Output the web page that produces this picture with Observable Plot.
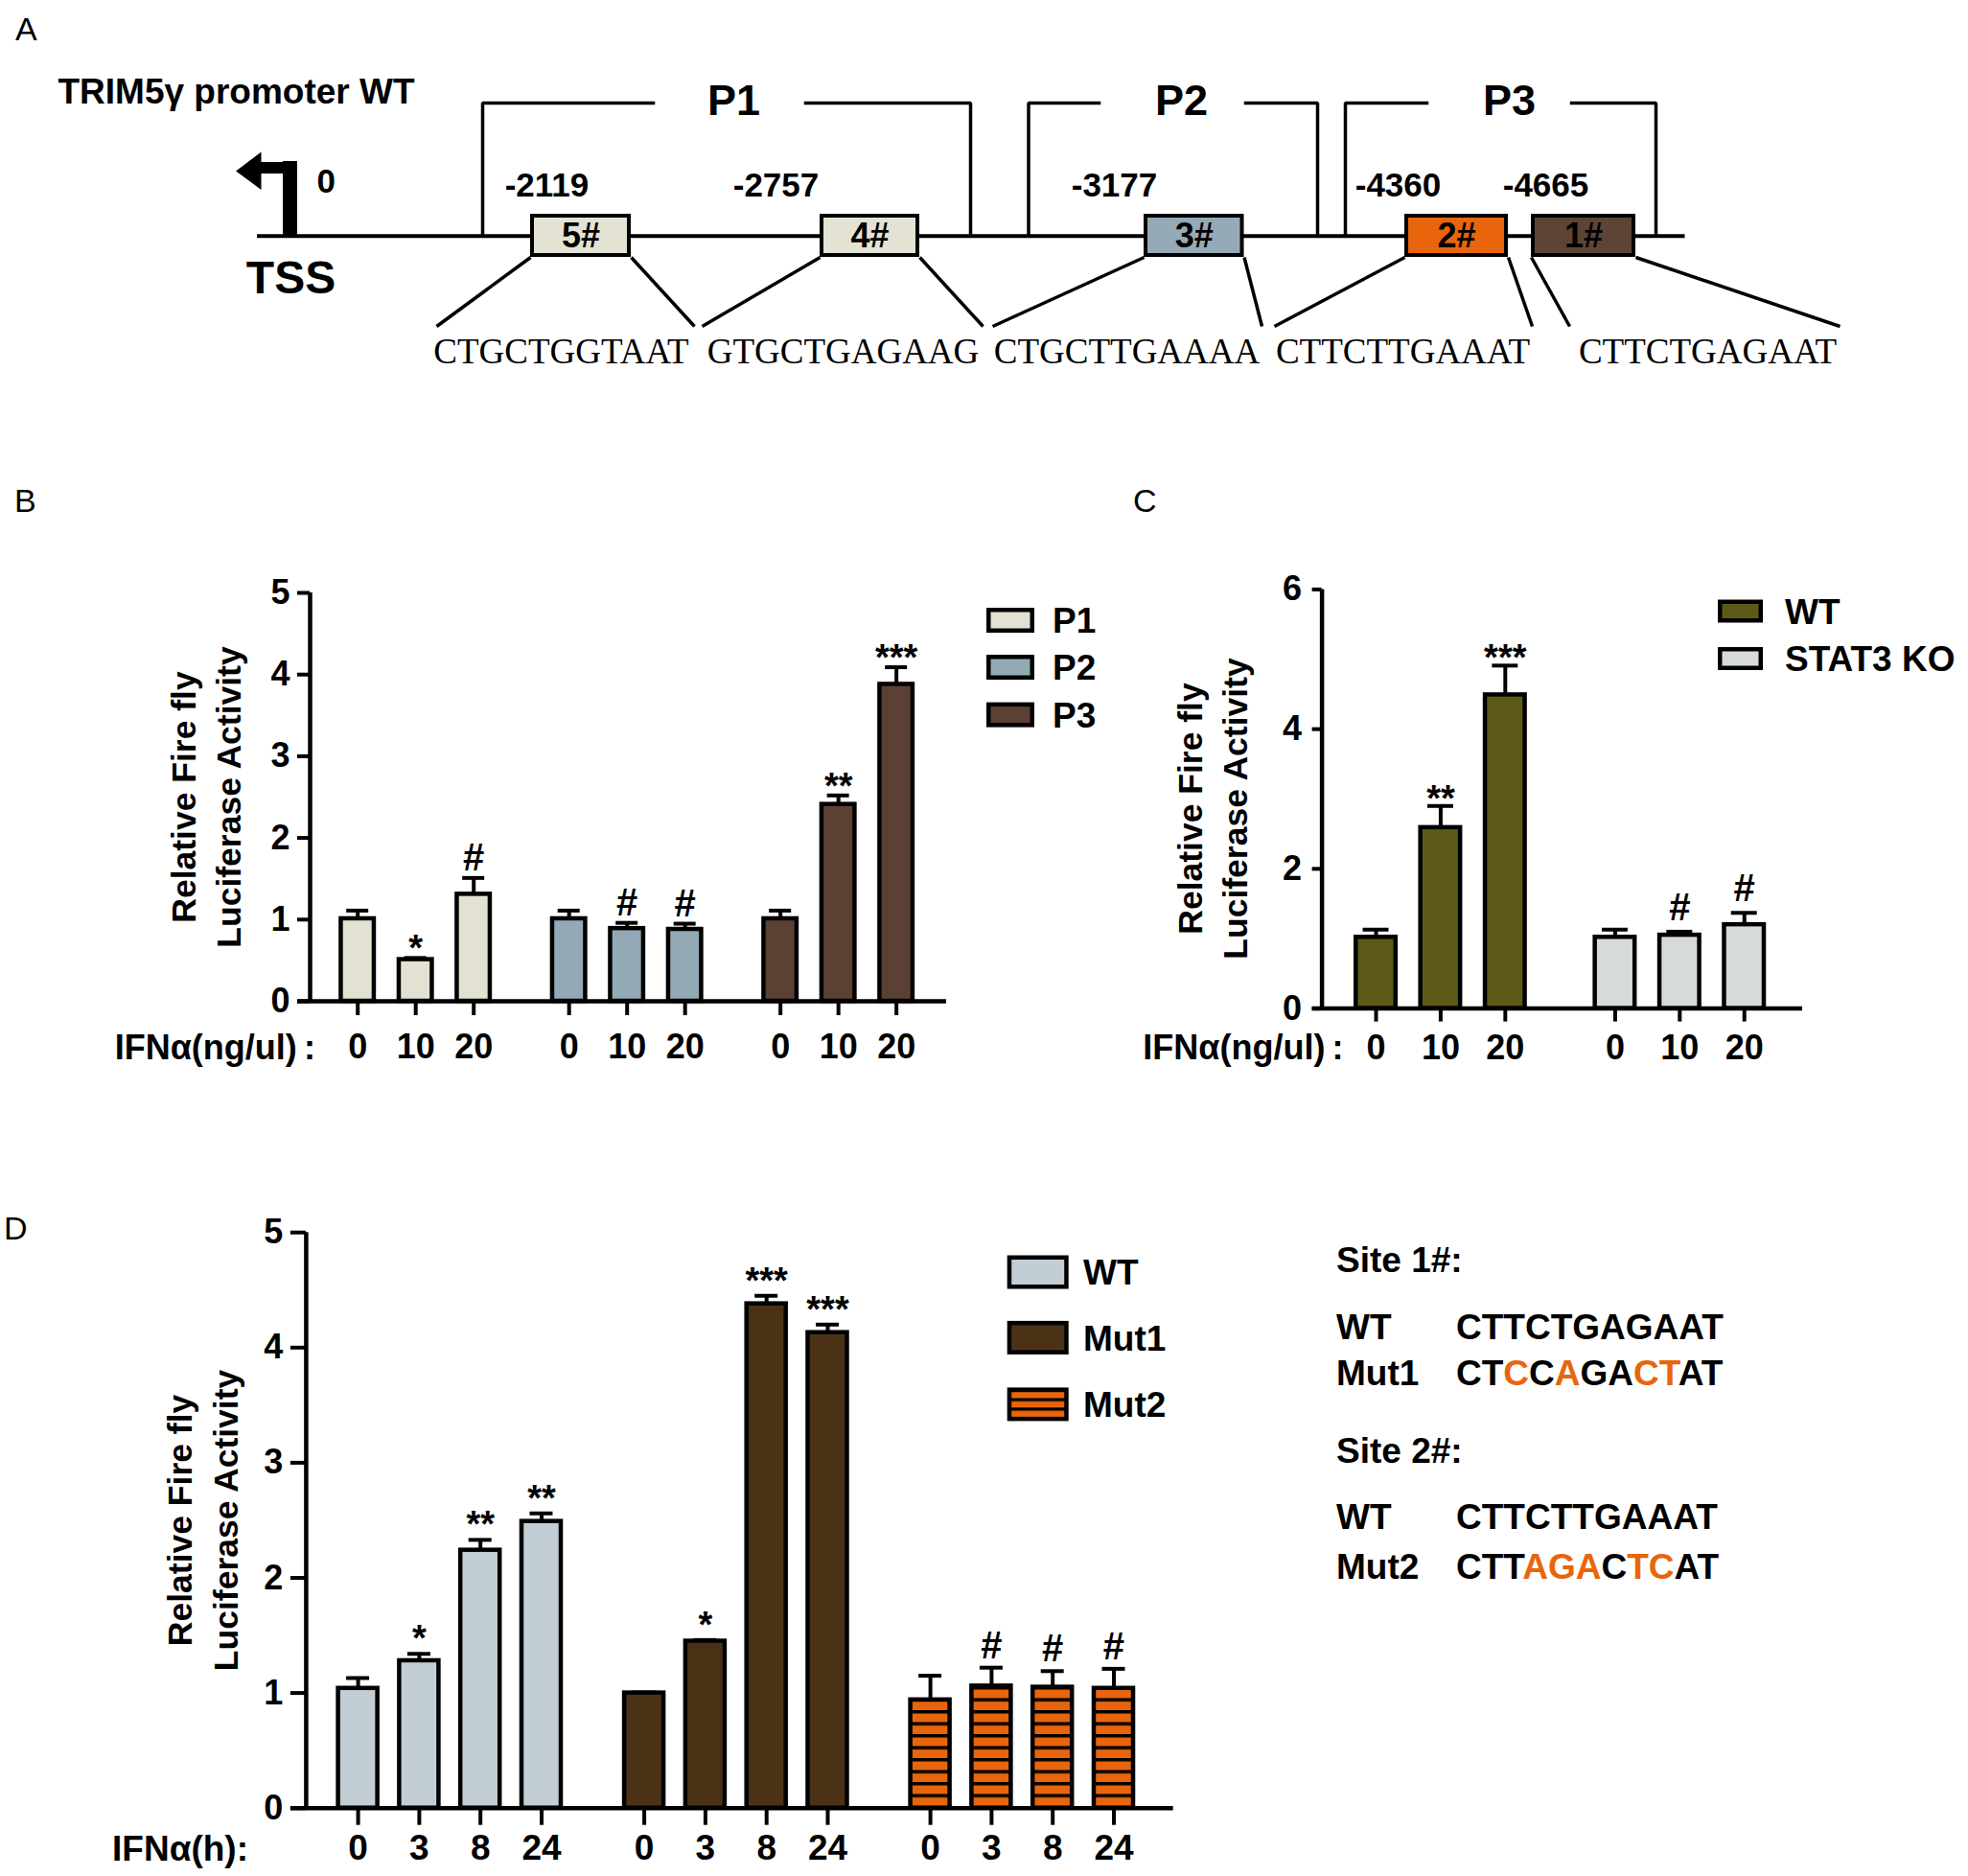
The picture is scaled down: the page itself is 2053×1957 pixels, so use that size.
<!DOCTYPE html>
<html><head><meta charset="utf-8">
<script src="https://cdn.jsdelivr.net/npm/d3@7"></script>
<script src="https://cdn.jsdelivr.net/npm/@observablehq/plot@0.6"></script>
<style>
html,body{margin:0;padding:0;background:#fff;}
#page{position:relative;width:2053px;height:1957px;overflow:hidden;background:#fff;}
.panel{position:absolute;}
.panel svg{max-width:none !important;display:block;overflow:visible;}
</style></head><body><div id="page"></div>
<script>
// ================= DATA =================
const panelLetters = ["A", "B", "C", "D"];

// Panel A: promoter schematic
const promoterTitle = "TRIM5γ promoter WT";
const tssLabel = "TSS";
const tssPosition = "0";
const siteIds = ["5#", "4#", "3#", "2#", "1#"];
const sitePositions = [-2119, -2757, -3177, -4360, -4665];
const siteSequences = ["CTGCTGGTAAT", "GTGCTGAGAAG", "CTGCTTGAAAA", "CTTCTTGAAAT", "CTTCTGAGAAT"];
const fragmentNames = ["P1", "P2", "P3"];

// Shared labels
const yLabelText = "Relative Fire fly\nLuciferase Activity";
const doseLabel = "IFNα(ng/ul)\u2009:";
const timeLabel = "IFNα(h):";

// Panel B
const bGroups = ["P1", "P2", "P3"];
const bDoses = ["0", "10", "20"];
const bMeans = [[1.01, 0.51, 1.31], [1.01, 0.89, 0.88], [1.01, 2.41, 3.88]];
const bErrs = [[0.10, 0.02, 0.20], [0.10, 0.07, 0.07], [0.10, 0.11, 0.21]];
const bSig = [["", "*", "#"], ["", "#", "#"], ["", "**", "***"]];
const bTicks = [0, 1, 2, 3, 4, 5];

// Panel C
const cGroups = ["WT", "STAT3 KO"];
const cDoses = ["0", "10", "20"];
const cMeans = [[1.02, 2.59, 4.49], [1.02, 1.05, 1.20]];
const cErrs = [[0.11, 0.31, 0.42], [0.11, 0.05, 0.17]];
const cSig = [["", "**", "***"], ["", "#", "#"]];
const cTicks = [0, 2, 4, 6];

// Panel D
const dGroups = ["WT", "Mut1", "Mut2"];
const dTimes = ["0", "3", "8", "24"];
const dMeans = [[1.04, 1.28, 2.24, 2.49], [1.0, 1.45, 4.38, 4.13], [0.94, 1.06, 1.05, 1.04]];
const dErrs = [[0.09, 0.06, 0.09, 0.07], [0.005, 0.01, 0.07, 0.07], [0.21, 0.16, 0.14, 0.17]];
const dSig = [["", "*", "**", "**"], ["", "*", "***", "***"], ["", "#", "#", "#"]];
const dTicks = [0, 1, 2, 3, 4, 5];

// Panel D: mutation sequences
const siteTitles = ["Site 1#:", "Site 2#:"];
const siteRowNames = [["WT", "Mut1"], ["WT", "Mut2"]];
const siteRowSeqs = [["CTTCTGAGAAT", "CTCCAGACTAT"], ["CTTCTTGAAAT", "CTTAGACTCAT"]];
const siteRowMutated = [[[], [2, 4, 7, 8]], [[], [3, 4, 5, 7, 8]]];

// ================= STYLE / LAYOUT =================
const FONT = "'Liberation Sans', Arial, sans-serif";
const SERIF = "'Liberation Serif', 'Times New Roman', serif";
const ORANGE = "#e8650c";
const colorsB = ["#e3e1d1", "#93a9b5", "#5b4134"];
const colorsC = ["#5d5a17", "#d7dbd7"];
const colorsD = ["#c3cdd4", "#4b3217", "url(#stripesD)"];
const siteBoxFill = ["#e4e2d3", "#e4e2d3", "#95aab6", ORANGE, "#5d4435"];

const page = document.getElementById("page");
function mount(node, left, top, w, h) {
  const div = document.createElement("div");
  div.className = "panel";
  Object.assign(div.style, {left: left + "px", top: top + "px", width: w + "px", height: h + "px"});
  div.appendChild(node);
  page.appendChild(div);
}

// ================= PANEL A =================
const LA = {
  width: 2053, height: 430,
  lineY: 245.7, lineX1: 268, lineX2: 1757.5, lineW: 4,
  boxX: [[553, 658], [855, 959], [1193, 1297.5], [1465, 1573], [1597, 1706]],
  boxY1: 223, boxY2: 268, boxStroke: 4,
  bpX: [570, 809, 1162, 1458, 1612], bpBaseline: 204, bpFont: 35,
  idFont: 36,
  seqX: [585, 879, 1175, 1463, 1781], seqBaseline: 378, seqFont: 37,
  connTop: 340, connX: [[455, 724], [732, 1025], [1035, 1316], [1329, 1598], [1637, 1919]], connW: 3.5,
  bracketTop: 107, brackets: [[503, 681, 840, 1012], [1072.5, 1146, 1299, 1374], [1403, 1488, 1639, 1727]], bracketW: 3.5,
  fragX: [765, 1232, 1574], fragBaseline: 119, fragFont: 45,
  tssX: 302, tssStemTop: 168, tssStemW: 15, armY: 174.5, armX2: 271, armW: 12,
  head: [[245.6, 178], [272, 158], [272, 197.5]],
  zeroX: 330, zeroBaseline: 200, zeroFont: 35,
  tssLabelX: 303, tssBaseline: 305, tssFont: 48,
  titleX: 60, titleBaseline: 107, titleFont: 37
};
{
  const sites = siteIds.map((id, i) => ({id, bp: sitePositions[i], seq: siteSequences[i], i}));
  const frags = fragmentNames.map((name, i) => ({name, i}));
  const bracketPts = [];
  frags.forEach(f => {
    const [xa, ga, gb, xb] = LA.brackets[f.i];
    [[xa, LA.lineY], [xa, LA.bracketTop], [ga, LA.bracketTop]].forEach(([x, y]) => bracketPts.push({k: f.name + "a", x, y}));
    [[gb, LA.bracketTop], [xb, LA.bracketTop], [xb, LA.lineY]].forEach(([x, y]) => bracketPts.push({k: f.name + "b", x, y}));
  });
  const headPts = LA.head.map(([x, y]) => ({x, y}));
  const bx = d => LA.boxX[d.i];
  const svg = Plot.plot({
    width: LA.width, height: LA.height, margin: 0,
    x: {domain: [0, LA.width], range: [0, LA.width], axis: null},
    y: {domain: [0, LA.height], range: [0, LA.height], axis: null},
    style: {fontFamily: FONT, fontWeight: "bold", color: "black", background: "transparent", overflow: "visible"},
    marks: [
      Plot.ruleY([LA.lineY], {x1: LA.lineX1, x2: LA.lineX2, stroke: "black", strokeWidth: LA.lineW}),
      Plot.line(bracketPts, {x: "x", y: "y", z: "k", stroke: "black", strokeWidth: LA.bracketW, strokeLinejoin: "miter", strokeLinecap: "square"}),
      Plot.text(frags, {x: d => LA.fragX[d.i], y: LA.fragBaseline, text: "name", lineAnchor: "bottom", fontSize: LA.fragFont}),
      Plot.link(sites, {x1: d => bx(d)[0], y1: LA.boxY2, x2: d => LA.connX[d.i][0], y2: LA.connTop, stroke: "black", strokeWidth: LA.connW}),
      Plot.link(sites, {x1: d => bx(d)[1], y1: LA.boxY2, x2: d => LA.connX[d.i][1], y2: LA.connTop, stroke: "black", strokeWidth: LA.connW}),
      Plot.rect(sites, {x1: d => bx(d)[0] + LA.boxStroke / 2, x2: d => bx(d)[1] - LA.boxStroke / 2,
        y1: LA.boxY1 + LA.boxStroke / 2, y2: LA.boxY2 - LA.boxStroke / 2,
        fill: d => siteBoxFill[d.i], stroke: "black", strokeWidth: LA.boxStroke}),
      Plot.text(sites, {x: d => (bx(d)[0] + bx(d)[1]) / 2, y: LA.lineY, text: "id", fontSize: LA.idFont, fill: "black"}),
      Plot.text(sites, {x: d => LA.bpX[d.i], y: LA.bpBaseline, text: d => String(d.bp), lineAnchor: "bottom", fontSize: LA.bpFont}),
      Plot.text(sites, {x: d => LA.seqX[d.i], y: LA.seqBaseline, text: "seq", lineAnchor: "bottom", fontSize: LA.seqFont, fontFamily: SERIF, fontWeight: "normal"}),
      // TSS arrow
      Plot.ruleX([LA.tssX], {y1: LA.lineY + LA.lineW / 2, y2: LA.tssStemTop, stroke: "black", strokeWidth: LA.tssStemW}),
      Plot.ruleY([LA.armY], {x1: LA.tssX + LA.tssStemW / 2, x2: LA.armX2, stroke: "black", strokeWidth: LA.armW}),
      Plot.line(headPts, {x: "x", y: "y", fill: "black", stroke: "none"}),
      Plot.text([tssPosition], {x: LA.zeroX, y: LA.zeroBaseline, text: d => d, textAnchor: "start", lineAnchor: "bottom", fontSize: LA.zeroFont}),
      Plot.text([tssLabel], {x: LA.tssLabelX, y: LA.tssBaseline, text: d => d, lineAnchor: "bottom", fontSize: LA.tssFont}),
      Plot.text([promoterTitle], {x: LA.titleX, y: LA.titleBaseline, text: d => d, textAnchor: "start", lineAnchor: "bottom", fontSize: LA.titleFont})
    ]
  });
  mount(svg, 0, 0, LA.width, LA.height);
}

// ================= BAR PANELS =================
function barPanel(cfg) {
  const {groups, levels, means, errs, sigs, fills, L, yMax, yTicks, xLabel} = cfg;
  const rows = [];
  groups.forEach((g, gi) => levels.forEach((lv, li) => rows.push({
    group: g, gi, level: lv, slot: gi * L.groupStep + li,
    mean: means[gi][li], err: errs[gi][li], sig: sigs[gi][li]
  })));
  const lastSlot = (groups.length - 1) * L.groupStep + levels.length - 1;
  const x0 = -L.padLeft, x1 = lastSlot + L.padRight;
  const unit = (L.width - L.ml - L.mr) / (x1 - x0);
  const top = d => d.mean + d.err;
  const levelOf = new Map(rows.map(d => [d.slot, d.level]));
  return Plot.plot({
    width: L.width, height: L.height,
    marginLeft: L.ml, marginRight: L.mr, marginTop: L.mt, marginBottom: L.mb,
    x: {type: "linear", domain: [x0, x1], label: null},
    y: {type: "linear", domain: [0, yMax], label: null},
    color: {type: "identity"},
    style: {fontFamily: FONT, fontWeight: "bold", color: "black", background: "transparent", overflow: "visible"},
    marks: [
      Plot.ruleX(rows, {x: "slot", y1: "mean", y2: top, stroke: "black", strokeWidth: L.errW}),
      Plot.rect(rows, {x1: d => d.slot - L.barW / 2, x2: d => d.slot + L.barW / 2, y1: 0, y2: "mean",
        fill: d => fills[d.gi], stroke: "black", strokeWidth: L.barStroke}),
      Plot.ruleY(rows, {y: top, x1: d => d.slot - L.capW / 2, x2: d => d.slot + L.capW / 2, stroke: "black", strokeWidth: L.errW}),
      Plot.text(rows.filter(d => d.sig.startsWith("*")), {x: "slot", y: top, text: "sig", lineAnchor: "bottom", dy: L.starDy, fontSize: L.starFont}),
      Plot.text(rows.filter(d => d.sig === "#"), {x: "slot", y: top, text: "sig", lineAnchor: "bottom", dy: L.hashDy, fontSize: L.hashFont}),
      Plot.axisY({ticks: yTicks, tickFormat: d => String(d), tickSize: L.yTick, tickPadding: L.yPad, fontSize: L.tickFont, strokeWidth: L.tickW, label: null}),
      Plot.axisX({ticks: rows.map(d => d.slot), tickFormat: s => levelOf.get(s), tickSize: L.xTick, tickPadding: L.xPad,
        fontSize: L.xFont, strokeWidth: L.tickW, label: null}),
      Plot.ruleX([x0], {stroke: "black", strokeWidth: L.axisW}),
      Plot.ruleY([0], {x1: x0 - L.yTick / unit, x2: x1, stroke: "black", strokeWidth: L.axisW}),
      Plot.text([yLabelText], {text: d => d, frameAnchor: "left", dx: L.ylDx, dy: L.ylDy, rotate: -90,
        textAnchor: "middle", lineAnchor: "bottom", lineHeight: L.ylLH, fontSize: L.ylFont}),
      Plot.text([xLabel], {text: d => d, frameAnchor: "bottom-left", dx: L.xlDx, dy: L.xlDy,
        textAnchor: "end", lineAnchor: "bottom", fontSize: L.xFont})
    ]
  });
}

const LB = {width: 1060, height: 600, ml: 323, mr: 73, mt: 58, mb: 116,
  groupStep: 3.6446, padLeft: 0.8215, padRight: 0.865, barW: 0.570, capW: 0.38,
  barStroke: 4.5, errW: 4, axisW: 4.5, tickW: 4, yTick: 13, yPad: 8, xTick: 15, xPad: 19.4,
  tickFont: 36, xFont: 36, ylFont: 35.5, ylLH: 1.3, ylDx: -73, ylDy: 0,
  starFont: 38, hashFont: 40, starDy: 3, hashDy: -8, xlDx: 5.5, xlDy: 60};
const LC = {width: 903, height: 600, ml: 228.6, mr: 173, mt: 54.4, mb: 108.4,
  groupStep: 3.7003, padLeft: 0.8368, padRight: 0.9017, barW: 0.616, capW: 0.40,
  barStroke: 4.5, errW: 4, axisW: 4.5, tickW: 4, yTick: 10, yPad: 11, xTick: 14, xPad: 13.3,
  tickFont: 36, xFont: 36, ylFont: 35.5, ylLH: 1.32, ylDx: -78.6, ylDy: 10,
  starFont: 38, hashFont: 40, starDy: 5, hashDy: -12, xlDx: 22.5, xlDy: 52.9};
const LD = {width: 1260, height: 707, ml: 318.9, mr: 36.3, mt: 35.2, mb: 71.3,
  groupStep: 4.6787, padLeft: 0.8495, padRight: 0.975, barW: 0.643, capW: 0.376,
  barStroke: 4.5, errW: 4, axisW: 4.5, tickW: 4, yTick: 16, yPad: 8, xTick: 18, xPad: 10,
  tickFont: 36, xFont: 37, ylFont: 35.5, ylLH: 1.35, ylDx: -71, ylDy: 0,
  starFont: 38, hashFont: 40, starDy: -3, hashDy: -10, xlDx: -60.4, xlDy: 54.3};

mount(barPanel({groups: bGroups, levels: bDoses, means: bMeans, errs: bErrs, sigs: bSig, fills: colorsB,
  L: LB, yMax: 5, yTicks: bTicks, xLabel: doseLabel}), 0, 560, LB.width, LB.height);
mount(barPanel({groups: cGroups, levels: cDoses, means: cMeans, errs: cErrs, sigs: cSig, fills: colorsC,
  L: LC, yMax: 6, yTicks: cTicks, xLabel: doseLabel}), 1150, 560, LC.width, LC.height);
mount(barPanel({groups: dGroups, levels: dTimes, means: dMeans, errs: dErrs, sigs: dSig, fills: colorsD,
  L: LD, yMax: 5, yTicks: dTicks, xLabel: timeLabel}), 0, 1250, LD.width, LD.height);

// ================= OVERLAY: letters, legends, sequences =================
const ov = d3.create("svg").attr("width", 2053).attr("height", 1957)
  .style("position", "absolute").style("left", "0px").style("top", "0px").style("pointer-events", "none")
  .attr("font-family", FONT);
const defs = ov.append("defs");
function stripes(id, y0, period, black, color) {
  const p = defs.append("pattern").attr("id", id).attr("patternUnits", "userSpaceOnUse")
    .attr("x", 0).attr("y", y0).attr("width", 20).attr("height", period);
  p.append("rect").attr("width", 20).attr("height", period).attr("fill", color);
  p.append("rect").attr("y", 0).attr("width", 20).attr("height", black).attr("fill", "black");
}
const dBaseline = LD.height - LD.mb;
stripes("stripesD", dBaseline - 1.75, 12.5, 3.5, ORANGE);
stripes("stripesLegend", 1458.5, 9.8, 3.3, ORANGE);

// panel letters
const letterPos = [[16, 41.7], [15, 534], [1182, 534], [4, 1293]];
panelLetters.forEach((t, i) => ov.append("text").attr("x", letterPos[i][0]).attr("y", letterPos[i][1])
  .attr("font-size", 34).attr("font-weight", "normal").text(t));

function legend(names, fills, {x, w, h, centers, labelX, font, stroke}) {
  names.forEach((n, i) => {
    ov.append("rect").attr("x", x + stroke / 2).attr("y", centers[i] - h / 2 + stroke / 2)
      .attr("width", w - stroke).attr("height", h - stroke)
      .attr("fill", fills[i]).attr("stroke", "black").attr("stroke-width", stroke);
    ov.append("text").attr("x", labelX).attr("y", centers[i] + 0.36 * font)
      .attr("font-size", font).attr("font-weight", "bold").text(n);
  });
}
legend(bGroups, colorsB, {x: 1029, w: 50, h: 26, centers: [647, 696, 745.6], labelX: 1098, font: 37, stroke: 4.5});
legend(cGroups, colorsC, {x: 1792, w: 47, h: 24, centers: [637.5, 687], labelX: 1862, font: 37, stroke: 4.5});
legend(dGroups, [colorsD[0], colorsD[1], "url(#stripesLegend)"], {x: 1050.7, w: 64, h: 35, centers: [1327, 1395.4, 1464.9], labelX: 1130, font: 37, stroke: 4.5});

// Panel D mutation text
const seqLayout = {nameX: 1394, seqX: 1519, font: 37, titleBase: [1326.7, 1526], rowBase: [[1396.7, 1445], [1595, 1647.3]]};
siteTitles.forEach((t, si) => {
  ov.append("text").attr("x", seqLayout.nameX).attr("y", seqLayout.titleBase[si])
    .attr("font-size", seqLayout.font).attr("font-weight", "bold").text(t);
  siteRowNames[si].forEach((n, ri) => {
    const yb = seqLayout.rowBase[si][ri];
    ov.append("text").attr("x", seqLayout.nameX).attr("y", yb)
      .attr("font-size", seqLayout.font).attr("font-weight", "bold").text(n);
    const txt = ov.append("text").attr("x", seqLayout.seqX).attr("y", yb)
      .attr("font-size", seqLayout.font).attr("font-weight", "bold");
    const mut = new Set(siteRowMutated[si][ri]);
    siteRowSeqs[si][ri].split("").forEach((ch, k) => {
      txt.append("tspan").attr("fill", mut.has(k) ? ORANGE : "black").text(ch);
    });
  });
});
page.appendChild(ov.node());
</script></body></html>
